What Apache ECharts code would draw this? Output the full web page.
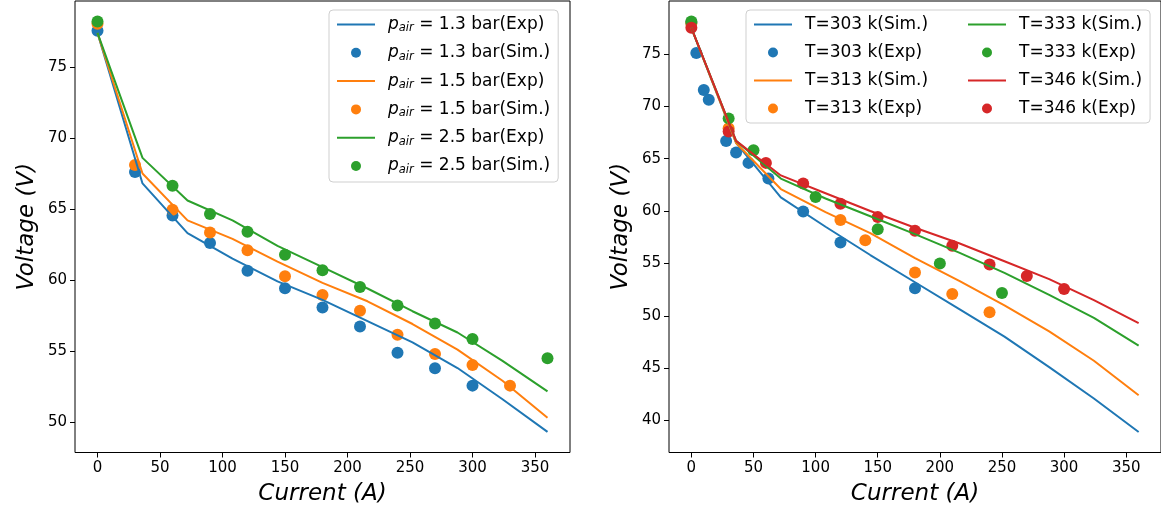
<!DOCTYPE html>
<html>
<head>
<meta charset="utf-8">
<script src="https://cdn.jsdelivr.net/npm/echarts@6/dist/echarts.min.js"></script>
<style>
  html, body { margin: 0; padding: 0; background: #fff; }
  #chart { width: 1161px; height: 515px; }
</style>
</head>
<body>
<div id="chart"></div>
<script>
// ---- Left panel: air pressure ----
const curveX = [0, 36, 72, 108, 144, 180, 216, 252, 288, 324, 360];
const p13Exp = [77.4, 66.8, 63.3, 61.5, 59.9, 58.6, 57.1, 55.6, 53.8, 51.6, 49.3];
const p15Exp = [77.4, 67.5, 64.2, 62.9, 61.3, 59.8, 58.5, 56.9, 55.1, 52.9, 50.3];
const p25Exp = [77.4, 68.6, 65.6, 64.2, 62.4, 60.9, 59.4, 57.8, 56.3, 54.3, 52.15];

const p13SimX = [0, 30, 60, 90, 120, 150, 180, 210, 240, 270, 300];
const p13Sim  = [77.55, 67.6, 64.55, 62.6, 60.65, 59.42, 58.06, 56.72, 54.87, 53.78, 52.56];
const p15SimX = [0, 30, 60, 90, 120, 150, 180, 210, 240, 270, 300, 330];
const p15Sim  = [78.05, 68.1, 64.95, 63.35, 62.1, 60.26, 58.95, 57.83, 56.14, 54.79, 54.02, 52.56];
const p25SimX = [0, 60, 90, 120, 150, 180, 210, 240, 270, 300, 360];
const p25Sim  = [78.2, 66.64, 64.65, 63.4, 61.78, 60.68, 59.51, 58.2, 56.93, 55.85, 54.48];

// ---- Right panel: temperature ----
const t303Sim = [77.5, 66.5, 61.3, 58.5, 55.8, 53.2, 50.6, 48.0, 45.1, 42.1, 38.9];
const t313Sim = [77.5, 66.5, 62.1, 59.9, 57.9, 55.5, 53.3, 51.0, 48.5, 45.7, 42.4];
const t333Sim = [77.5, 66.7, 63.1, 61.2, 59.5, 57.8, 56.0, 54.1, 52.0, 49.8, 47.15];
const t346Sim = [77.5, 66.7, 63.4, 61.7, 60.0, 58.4, 56.9, 55.2, 53.5, 51.5, 49.3];

const t303ExpX = [0, 4, 10, 14, 28, 36, 46, 62, 90, 120, 180];
const t303Exp  = [78.0, 75.1, 71.57, 70.64, 66.7, 65.58, 64.6, 63.1, 59.95, 57.0, 52.62];
const t313ExpX = [0, 30, 120, 140, 180, 210, 240];
const t313Exp  = [77.9, 67.9, 59.15, 57.22, 54.13, 52.07, 50.33];
const t333ExpX = [0, 30, 50, 100, 150, 200, 250];
const t333Exp  = [78.1, 68.85, 65.8, 61.35, 58.27, 55.0, 52.17];
const t346ExpX = [0, 30, 60, 90, 120, 150, 180, 210, 240, 270, 300];
const t346Exp  = [77.5, 67.6, 64.6, 62.62, 60.7, 59.44, 58.11, 56.68, 54.9, 53.79, 52.55];

// ---- Tick labels ----
const xTicks = [0, 50, 100, 150, 200, 250, 300, 350];
const yTicksLeft = [50, 55, 60, 65, 70, 75];
const yTicksRight = [40, 45, 50, 55, 60, 65, 70, 75];

const leftNames = [
  '1.3 bar(Exp)', '1.3 bar(Sim.)', '1.5 bar(Exp)', '1.5 bar(Sim.)', '2.5 bar(Exp)', '2.5 bar(Sim.)'
];
const rightNames = [
  'T=303 k(Sim.)', 'T=303 k(Exp)', 'T=313 k(Sim.)', 'T=313 k(Exp)',
  'T=333 k(Sim.)', 'T=333 k(Exp)', 'T=346 k(Sim.)', 'T=346 k(Exp)'
];

const C = { blue: '#1f77b4', orange: '#ff7f0e', green: '#2ca02c', red: '#d62728' };
const FONT = 'DejaVu Sans';
// legend handle for the curves: a thin horizontal bar
const LINE_ICON = 'path://M0,0 L38,0 L38,2 L0,2 Z';

const pair = (xs, ys) => xs.map((x, i) => [x, ys[i]]);

function lineSeries(name, xs, ys, color, panel) {
  return {
    type: 'line', name, data: pair(xs, ys),
    xAxisIndex: panel, yAxisIndex: panel,
    symbol: 'none', smooth: false,
    lineStyle: { width: 2, color }, itemStyle: { color },
    animation: false, clip: true
  };
}
function dotSeries(name, xs, ys, color, panel) {
  return {
    type: 'scatter', name, data: pair(xs, ys),
    xAxisIndex: panel, yAxisIndex: panel,
    symbol: 'circle', symbolSize: 12,
    itemStyle: { color, opacity: 1 },
    animation: false
  };
}

function xAxis(panel) {
  return {
    type: 'value', gridIndex: panel, min: -18, max: 378,
    name: 'Current (A)', nameLocation: 'middle', nameGap: 30,
    nameTextStyle: { fontFamily: FONT, fontStyle: 'italic', fontSize: 23, color: '#000' },
    axisLine: { show: false, onZero: false },
    axisTick: { show: true, length: 5, lineStyle: { color: '#000', width: 1 }, customValues: xTicks },
    axisLabel: { fontFamily: FONT, fontSize: 15, color: '#000', margin: 8, customValues: xTicks },
    splitLine: { show: false }
  };
}
function yAxis(panel, min, max, ticks) {
  return {
    type: 'value', gridIndex: panel, min, max,
    name: 'Voltage (V)', nameLocation: 'middle', nameGap: 36, nameRotate: 90,
    nameTextStyle: { fontFamily: FONT, fontStyle: 'italic', fontSize: 23, color: '#000' },
    axisLine: { show: false, onZero: false },
    axisTick: { show: true, length: 5, lineStyle: { color: '#000', width: 1 }, customValues: ticks },
    axisLabel: { fontFamily: FONT, fontSize: 15, color: '#000', margin: 8, customValues: ticks },
    splitLine: { show: false }
  };
}

const legendBase = {
  orient: 'vertical', itemWidth: 38, itemHeight: 10,
  padding: [6, 8, 6, 8],
  borderColor: '#cfcfcf', borderWidth: 1, borderRadius: 4,
  backgroundColor: 'rgba(255,255,255,0.8)',
  selectedMode: false
};

const option = {
  backgroundColor: '#fff',
  animation: false,
  grid: [
    { left: 75, top: 1, width: 495, height: 451.5, show: true, borderColor: '#000', borderWidth: 1, backgroundColor: 'transparent' },
    { left: 669, top: 1, width: 495, height: 451.5, show: true, borderColor: '#000', borderWidth: 1, backgroundColor: 'transparent' }
  ],
  xAxis: [xAxis(0), xAxis(1)],
  yAxis: [yAxis(0, 47.85, 79.65, yTicksLeft), yAxis(1, 36.94, 80.06, yTicksRight)],
  legend: [
    Object.assign({}, legendBase, {
      left: 329, top: 10, itemGap: 9.8,
      data: leftNames.map(n => ({ name: n, icon: n.indexOf('Sim') >= 0 ? 'circle' : LINE_ICON })),
      formatter: n => '{p|p}{s|air}{t| = ' + n.replace(' bar', '}{b| bar') + '}',
      textStyle: {
        fontFamily: FONT, fontSize: 17, color: '#000',
        rich: {
          p: { fontFamily: FONT, fontSize: 17, fontStyle: 'italic', lineHeight: 20, padding: [0, 0, 0, 8] },
          s: { fontFamily: FONT, fontSize: 11.5, fontStyle: 'italic', lineHeight: 10, verticalAlign: 'bottom' },
          t: { fontFamily: FONT, fontSize: 17, lineHeight: 20 },
          b: { fontFamily: FONT, fontSize: 17, lineHeight: 20 }
        }
      }
    }),
    Object.assign({}, legendBase, {
      left: 746, top: 10, height: 118, itemGap: 11,
      data: rightNames.map(n => ({ name: n, icon: n.indexOf('Exp') >= 0 ? 'circle' : LINE_ICON })),
      // first column gets a fixed text width so the second column starts further right
      formatter: n => (rightNames.indexOf(n) < 4 ? '{a|' : '{c|') + n + '}',
      textStyle: {
        fontFamily: FONT, fontSize: 17, color: '#000',
        rich: {
          a: { fontFamily: FONT, fontSize: 17, lineHeight: 20, width: 152, padding: [0, 0, 0, 8] },
          c: { fontFamily: FONT, fontSize: 17, lineHeight: 20, padding: [0, 0, 0, 8] }
        }
      }
    })
  ],
  series: [
    lineSeries(leftNames[0], curveX, p13Exp, C.blue, 0),
    dotSeries(leftNames[1], p13SimX, p13Sim, C.blue, 0),
    lineSeries(leftNames[2], curveX, p15Exp, C.orange, 0),
    dotSeries(leftNames[3], p15SimX, p15Sim, C.orange, 0),
    lineSeries(leftNames[4], curveX, p25Exp, C.green, 0),
    dotSeries(leftNames[5], p25SimX, p25Sim, C.green, 0),

    lineSeries(rightNames[0], curveX, t303Sim, C.blue, 1),
    dotSeries(rightNames[1], t303ExpX, t303Exp, C.blue, 1),
    lineSeries(rightNames[2], curveX, t313Sim, C.orange, 1),
    dotSeries(rightNames[3], t313ExpX, t313Exp, C.orange, 1),
    lineSeries(rightNames[4], curveX, t333Sim, C.green, 1),
    dotSeries(rightNames[5], t333ExpX, t333Exp, C.green, 1),
    lineSeries(rightNames[6], curveX, t346Sim, C.red, 1),
    dotSeries(rightNames[7], t346ExpX, t346Exp, C.red, 1)
  ]
};

const chart = echarts.init(document.getElementById('chart'), null, { renderer: 'canvas' });
chart.setOption(option);
</script>
</body>
</html>
